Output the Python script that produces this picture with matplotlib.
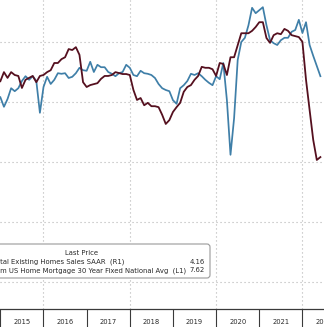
"""
    Existing home sales vs. 30Y mortgage rate (inverted), monthly 2015-2022
"""
import matplotlib
matplotlib.use("Agg")
import matplotlib.pyplot as plt
import numpy as np
from matplotlib.patches import FancyBboxPatch

# Bankrate.com 30Y fixed national avg, %, monthly from Jan 2015 (plotted inverted, L1)
mortgage_rate = [
    4.13, 3.94, 4.06, 3.94, 4.00, 4.02, 4.27, 4.10, 4.06, 4.02, 4.15, 4.02,
    4.00, 3.94, 3.90, 3.75, 3.75, 3.67, 3.63, 3.46, 3.48, 3.42, 3.58, 4.15,
    4.25, 4.21, 4.19, 4.17, 4.08, 4.02, 4.02, 4.00, 3.94, 3.96, 3.98, 3.98,
    4.00, 4.31, 4.52, 4.48, 4.63, 4.58, 4.65, 4.65, 4.67, 4.83, 5.02, 4.94,
    4.77, 4.67, 4.58, 4.35, 4.25, 4.21, 4.10, 4.02, 3.83, 3.85, 3.85, 3.88,
    4.02, 3.75, 3.77, 4.00, 3.63, 3.63, 3.38, 3.13, 3.13, 3.13, 3.08, 3.00,
    2.90, 2.90, 3.23, 3.33, 3.17, 3.13, 3.15, 3.04, 3.08, 3.17, 3.19, 3.21,
    3.31, 4.10, 4.73, 5.35, 5.77, 5.71,
]

# Total existing home sales SAAR, millions, monthly from Jan 2015 (R1)
home_sales = [
    5.08, 4.92, 5.05, 5.23, 5.18, 5.23, 5.35, 5.43, 5.37, 5.43, 5.35, 4.82,
    5.25, 5.42, 5.30, 5.37, 5.48, 5.47, 5.48, 5.40, 5.42, 5.48, 5.57, 5.53,
    5.52, 5.67, 5.50, 5.62, 5.58, 5.58, 5.50, 5.47, 5.43, 5.48, 5.50, 5.62,
    5.57, 5.45, 5.43, 5.52, 5.48, 5.47, 5.45, 5.40, 5.30, 5.23, 5.20, 5.18,
    5.03, 4.97, 5.23, 5.28, 5.35, 5.47, 5.45, 5.48, 5.43, 5.37, 5.32, 5.28,
    5.43, 5.38, 5.65, 5.03, 4.12, 4.73, 5.70, 6.00, 6.07, 6.28, 6.57, 6.48,
    6.53, 6.58, 6.28, 6.03, 5.98, 5.95, 6.03, 6.07, 6.07, 6.17, 6.20, 6.37,
    6.15, 6.33, 5.95, 5.77, 5.60, 5.43,
]

years = list(range(2015, 2023))
grid_years = [2016, 2018, 2020, 2022]
sales_grid = [2, 3, 4, 5, 6]

legend_title = "Last Price"
legend_rows = [
    ("Total Existing Homes Sales SAAR  (R1)", "4.16"),
    ("Bankrate.com US Home Mortgage 30 Year Fixed National Avg  (L1)", "7.62"),
]

BLUE = "#3f7fa8"
MAROON = "#55101f"
GRID = "#b4b4b4"
INK = "#2a2a2a"
FS = 4.95


def px(x, y, w=324, h=327):
    """pixel position (from top-left) -> figure fraction"""
    return x / w, 1 - y / h


def main():
    fig = plt.figure(figsize=(3.24, 3.27), dpi=100)
    fig.patch.set_facecolor("white")

    ax = fig.add_axes([0, 18 / 327, 1, 309 / 327])
    ax2 = ax.twinx()

    months = 2015 + np.arange(len(home_sales)) / 12

    ax2.plot(months, home_sales, color=BLUE, lw=1.25, zorder=3)
    ax.plot(months, mortgage_rate, color=MAROON, lw=1.3, zorder=3)
    ax.set_zorder(ax2.get_zorder() + 1)
    ax.patch.set_visible(False)

    ax.set_xlim(2014.992, 2022.412)
    ax.set_ylim(8.875, 2.4375)
    ax2.set_ylim(1.55, 6.70)

    # dotted grid
    ax2.set_yticks(sales_grid)
    ax2.grid(axis="y", color=GRID, lw=0.8, ls=(0, (1, 2.6)))
    for yr in grid_years:
        ax2.axvline(yr, color=GRID, lw=0.8, ls=(0, (1, 2.6)), zorder=1)

    for a in (ax, ax2):
        for side in ("left", "right", "top"):
            a.spines[side].set_visible(False)
        a.tick_params(axis="y", left=False, right=False,
                      labelleft=False, labelright=False)
    ax2.spines["bottom"].set_visible(False)
    ax2.tick_params(axis="x", bottom=False, labelbottom=False)
    ax.spines["bottom"].set_color("#3a3a3a")
    ax.spines["bottom"].set_linewidth(0.9)

    # year dividers below the axis, labels centred in each year
    ax.set_xticks(years)
    ax.set_xticklabels([])
    ax.tick_params(axis="x", which="major", length=14, width=0.8,
                   color="#3a3a3a", direction="out")
    ax.set_xticks([y + 0.5 for y in years], minor=True)
    ax.set_xticklabels([str(y) for y in years], minor=True,
                       fontsize=4.9, color=INK)
    ax.tick_params(axis="x", which="minor", length=0, pad=7.5)

    # legend panel
    box = FancyBboxPatch((-0.3, 0.49), 2.40, 0.34,
                         boxstyle="round,pad=0,rounding_size=0.03",
                         transform=fig.dpi_scale_trans,
                         facecolor="white", edgecolor="#9a9a9a", lw=0.8,
                         zorder=10)
    fig.patches.append(box)

    fig.text(*px(82, 253), legend_title, fontsize=FS, color=INK,
             ha="center", va="center", zorder=11)
    row_ends = [124, 186]
    for (label, value), y, xr in zip(legend_rows, [262, 270.5], row_ends):
        fig.text(*px(xr, y), label, fontsize=FS, color=INK,
                 ha="right", va="center", zorder=11)
        fig.text(*px(205, y), value, fontsize=FS, color=INK,
                 ha="right", va="center", zorder=11)

    fig.savefig("out.png", dpi=100, facecolor="white")


if __name__ == "__main__":
    main()
